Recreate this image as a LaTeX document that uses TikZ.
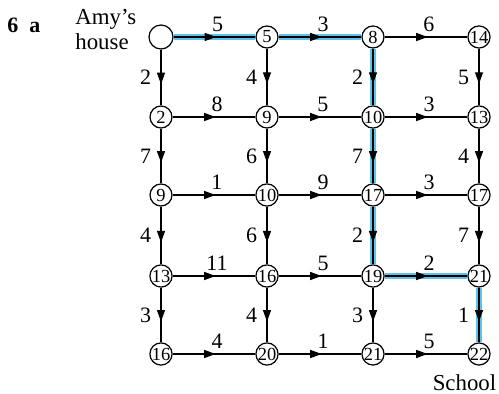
\documentclass[tikz,border=0pt]{standalone}
\usepackage{fontspec}
\setmainfont{Liberation Serif}
\usetikzlibrary{arrows.meta,decorations.markings}
\definecolor{pathblue}{HTML}{5BC3EA}
\tikzset{
  every picture/.style={line join=round, >=Stealth},
  junction/.style={circle, draw, line width=0.7pt, minimum size=0.44cm, inner sep=0pt, font=\fontsize{10.5}{11}\selectfont},
  road/.style={line width=0.75pt, postaction={decorate},
    decoration={markings, mark=at position #1 with {\arrow{Triangle[length=2.3mm,width=1.6mm]}}}},
  road/.default=0.55,
  glow/.style={pathblue, line width=3.2pt},
  wth/.style={font=\fontsize{12.5}{13}\selectfont, inner sep=1pt, above=0.06cm, xshift=0.06cm},
  wtv/.style={font=\fontsize{12.5}{13}\selectfont, inner sep=1pt, left=0.15cm},
  caption/.style={font=\fontsize{13}{14.2}\selectfont, inner sep=0pt},
}
\begin{document}
\begin{tikzpicture}
\useasboundingbox (0,0) rectangle (9.98,7.88);
\node[anchor=base west, inner sep=0pt, font=\fontsize{12.5}{13}\selectfont\bfseries] (qno) at (0.14,7.22) {6\enspace a};
\node[caption, anchor=north west, align=left] (house) at (1.50,7.70) {Amy’s\\house};
\node[caption, anchor=base] (school) at (9.29,0.06) {School};
\node[junction, minimum size=0.48cm] (h) at (3.22,7.14) {};
\node[junction] (n12) at (5.34,7.14) {5};
\node[junction] (n13) at (7.46,7.14) {8};
\node[junction] (n14) at (9.58,7.14) {14};
\node[junction] (n21) at (3.22,5.54) {2};
\node[junction] (n22) at (5.34,5.54) {9};
\node[junction] (n23) at (7.46,5.54) {10};
\node[junction] (n24) at (9.58,5.54) {13};
\node[junction] (n31) at (3.22,3.98) {9};
\node[junction] (n32) at (5.34,3.98) {10};
\node[junction] (n33) at (7.46,3.98) {17};
\node[junction] (n34) at (9.58,3.98) {17};
\node[junction] (n41) at (3.22,2.36) {13};
\node[junction] (n42) at (5.34,2.36) {16};
\node[junction] (n43) at (7.46,2.36) {19};
\node[junction] (n44) at (9.58,2.36) {21};
\node[junction] (n51) at (3.22,0.80) {16};
\node[junction] (n52) at (5.34,0.80) {20};
\node[junction] (n53) at (7.46,0.80) {21};
\node[junction] (n54) at (9.58,0.80) {22};
\draw[glow] (h)--(n12);
\draw[glow] (n12)--(n13);
\draw[glow] (n13)--(n23);
\draw[glow] (n23)--(n33);
\draw[glow] (n33)--(n43);
\draw[glow] (n43)--(n44);
\draw[glow] (n44)--(n54);
\draw[road=0.52] (h)--node[wth]{5}(n12);
\draw[road=0.52] (n12)--node[wth]{3}(n13);
\draw[road=0.52] (n13)--node[wth]{6}(n14);
\draw[road=0.62] (h)--node[wtv]{2}(n21);
\draw[road=0.62] (n12)--node[wtv]{4}(n22);
\draw[road=0.62] (n13)--node[wtv]{2}(n23);
\draw[road=0.62] (n14)--node[wtv]{5}(n24);
\draw[road=0.52] (n21)--node[wth]{8}(n22);
\draw[road=0.52] (n22)--node[wth]{5}(n23);
\draw[road=0.52] (n23)--node[wth]{3}(n24);
\draw[road=0.62] (n21)--node[wtv]{7}(n31);
\draw[road=0.62] (n22)--node[wtv]{6}(n32);
\draw[road=0.62] (n23)--node[wtv]{7}(n33);
\draw[road=0.62] (n24)--node[wtv]{4}(n34);
\draw[road=0.52] (n31)--node[wth]{1}(n32);
\draw[road=0.52] (n32)--node[wth]{9}(n33);
\draw[road=0.52] (n33)--node[wth]{3}(n34);
\draw[road=0.62] (n31)--node[wtv]{4}(n41);
\draw[road=0.62] (n32)--node[wtv]{6}(n42);
\draw[road=0.62] (n33)--node[wtv]{2}(n43);
\draw[road=0.62] (n34)--node[wtv]{7}(n44);
\draw[road=0.52] (n41)--node[wth]{11}(n42);
\draw[road=0.52] (n42)--node[wth]{5}(n43);
\draw[road=0.52] (n43)--node[wth]{2}(n44);
\draw[road=0.62] (n41)--node[wtv]{3}(n51);
\draw[road=0.62] (n42)--node[wtv]{4}(n52);
\draw[road=0.62] (n43)--node[wtv]{3}(n53);
\draw[road=0.62] (n44)--node[wtv]{1}(n54);
\draw[road=0.52] (n51)--node[wth]{4}(n52);
\draw[road=0.52] (n52)--node[wth]{1}(n53);
\draw[road=0.52] (n53)--node[wth]{5}(n54);
\end{tikzpicture}
\end{document}
